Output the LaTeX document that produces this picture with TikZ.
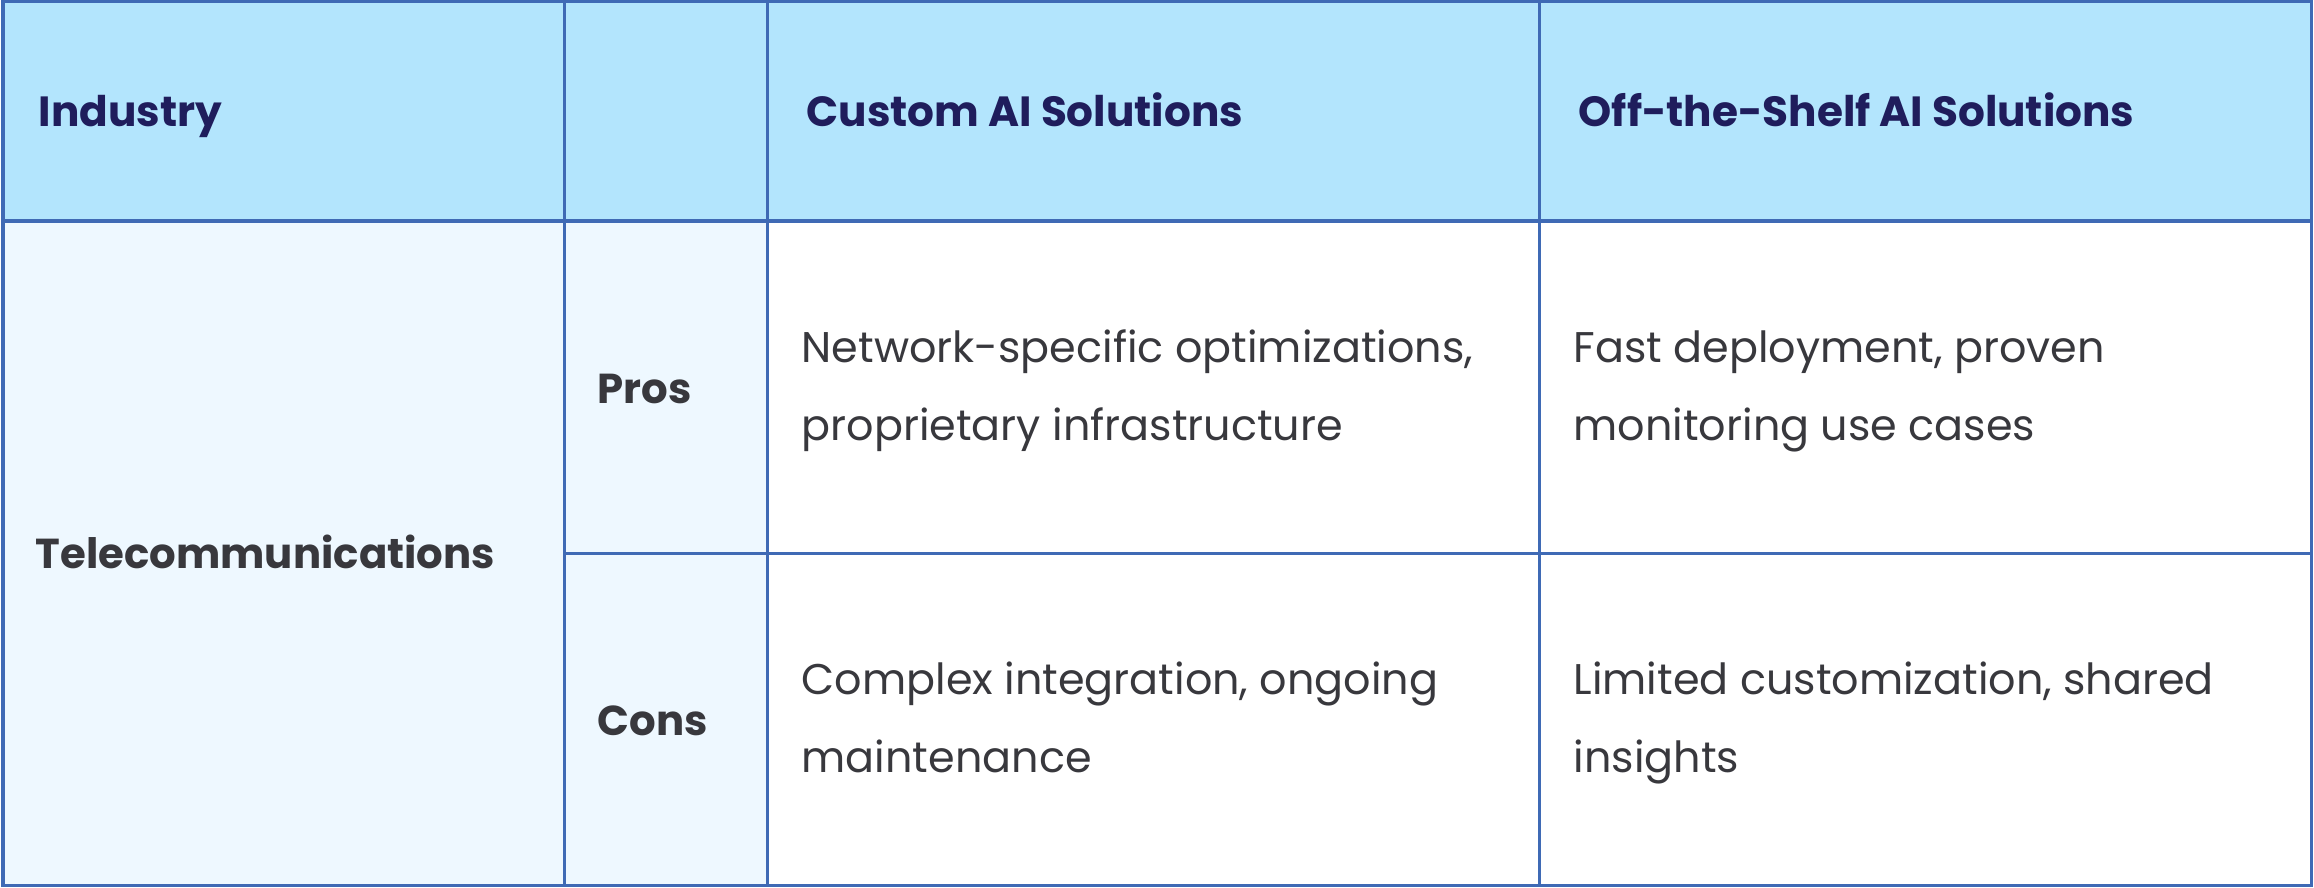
\documentclass[tikz,border=0pt]{standalone}
\usepackage{fontspec}
\setmainfont{Poppins}
\definecolor{headblue}{HTML}{B3E5FD}
\definecolor{sideblue}{HTML}{EEF8FF}
\definecolor{gridblue}{HTML}{3F6AB5}
\definecolor{headink}{HTML}{1F1D5C}
\definecolor{bodyink}{HTML}{38383D}
\begin{document}
\begin{tikzpicture}[x=0.01cm, y=-0.01cm,
    grid/.style = {draw=gridblue, line width=0.03cm},
    head/.style = {anchor=base west, inner sep=0pt, text=headink, font=\bfseries\fontsize{12}{14}\selectfont},
    side/.style = {anchor=base west, inner sep=0pt, text=bodyink, font=\bfseries\fontsize{11.9}{22}\selectfont},
    cell/.style = {anchor=base west, inner sep=0pt, text=bodyink, align=left, font=\fontsize{12.2}{21.9}\selectfont}]
    \useasboundingbox (0,0) rectangle (2314,888);
    % fills
    \fill[headblue] (3,2) rectangle (2311,221);
    \fill[sideblue] (3,221) rectangle (767,885);
    % grid
    \draw[grid] (3,2) rectangle (2311,885);
    \draw[grid, line width=0.04cm] (3,221) -- (2311,221);
    \draw[grid] (564,2) -- (564,885);
    \draw[grid] (767,2) -- (767,885);
    \draw[grid] (1539,2) -- (1539,885);
    \draw[grid] (564,553) -- (2311,553);
    % header
    \node[head] (industry) at (38,127) {Industry};
    \node[head] (custom) at (806,127) {Custom AI Solutions};
    \node[head] (shelf) at (1578,127) {Off-the-Shelf AI Solutions};
    % body
    \node[side] (telecom) at (35,568) {Telecommunications};
    \node[side] (pros) at (597,403) {Pros};
    \node[side] (cons) at (597,735) {Cons};
    \node[cell] (custompros) at (801,440) {Network-specific optimizations,\\proprietary infrastructure};
    \node[cell] (shelfpros) at (1573,440) {Fast deployment, proven\\monitoring use cases};
    \node[cell] (customcons) at (801,772) {Complex integration, ongoing\\maintenance};
    \node[cell] (shelfcons) at (1573,772) {Limited customization, shared\\insights};
\end{tikzpicture}
\end{document}
